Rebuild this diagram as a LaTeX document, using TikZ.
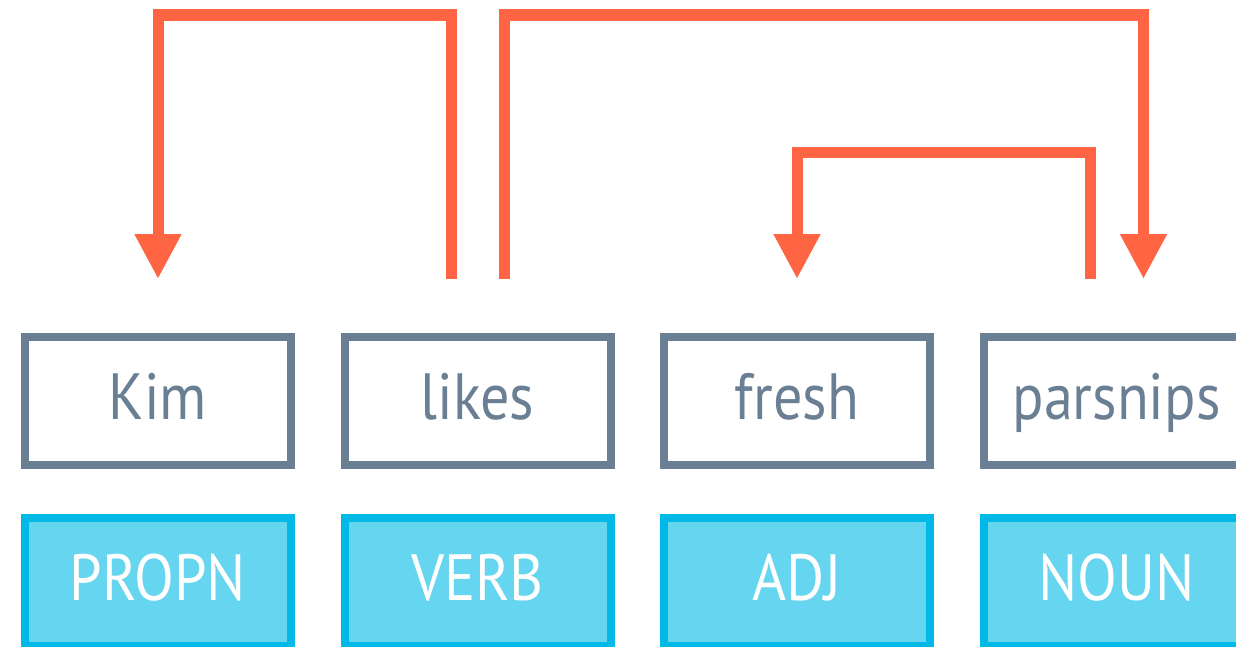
\documentclass[tikz,border=0pt]{standalone}
\usepackage{fontspec}
\setmainfont{PT Sans}[FakeStretch=0.89]
\usetikzlibrary{arrows.meta,calc,positioning}

\definecolor{arc}{HTML}{FF6543}
\definecolor{wordgray}{HTML}{6A7F93}
\definecolor{tagfill}{HTML}{66D5EF}
\definecolor{tagline}{HTML}{00B9E6}

\begin{document}
\begin{tikzpicture}[
  word/.style={draw=wordgray,line width=0.08cm,text=wordgray,minimum width=2.66cm,minimum height=1.28cm,inner sep=0pt,text height=0.46cm,text depth=0.1cm,font=\fontsize{18.6}{20}\selectfont},
  tag/.style={word,draw=tagline,fill=tagfill,text=white},
  dep/.style={draw=arc,line width=0.11cm,-{Triangle[width=0.44cm,length=0.45cm]}}]
\useasboundingbox (0,0) rectangle (12.36,6.46);
%tokens and tags
\foreach \w/\t/\n [count=\i from 0] in {Kim/PROPN/kim,likes/VERB/likes,fresh/ADJ/fresh,parsnips/NOUN/parsnips}{
  \node[word] (\n) at (1.58+3.195*\i,2.45) {\w};
  \node[tag,below=0.45cm of \n] (\n-tag) {\t};
}
%arc ends
\coordinate (likes-l) at ($(likes.north)+(-0.26,0.54)$);
\coordinate (likes-r) at ($(likes.north)+(0.27,0.54)$);
\coordinate (kim-in) at ($(kim.north)+(0,0.54)$);
\coordinate (fresh-in) at ($(fresh.north)+(0,0.54)$);
\coordinate (parsnips-l) at ($(parsnips.north)+(-0.26,0.54)$);
\coordinate (parsnips-r) at ($(parsnips.north)+(0.27,0.54)$);
%arcs
\draw[dep] (likes-l) -- ++(0,2.64) -| (kim-in);
\draw[dep] (likes-r) -- ++(0,2.64) -| (parsnips-r);
\draw[dep] (parsnips-l) -- ++(0,1.27) -| (fresh-in);
\end{tikzpicture}
\end{document}
